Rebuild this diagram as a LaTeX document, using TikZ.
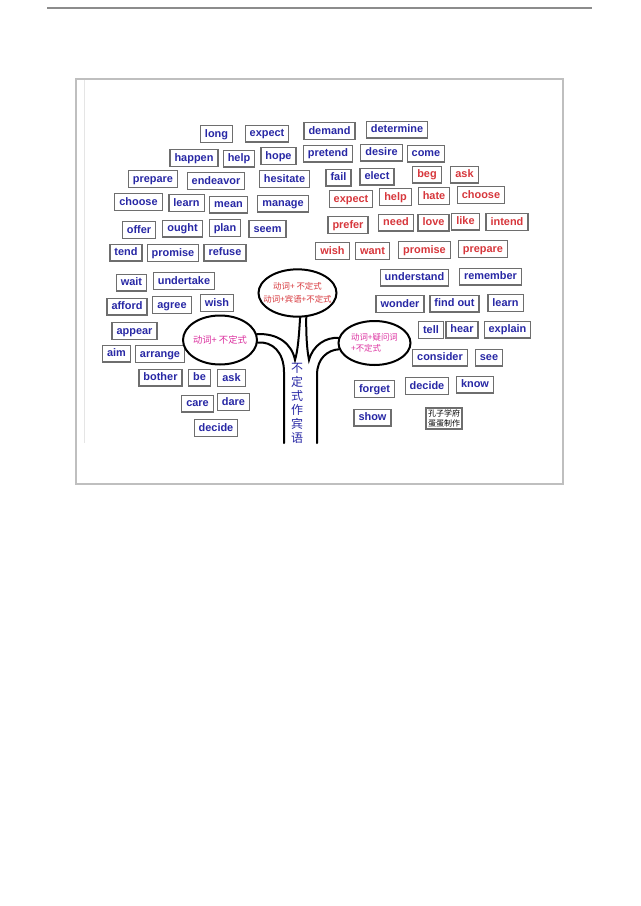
\documentclass[tikz,border=0pt]{standalone}
\usepackage{fontspec}
\setmainfont{Liberation Sans}
\newfontfamily\cjk{Noto Sans CJK SC}
\usetikzlibrary{shapes.geometric}
\definecolor{wblue}{RGB}{40,40,165}
\definecolor{wred}{RGB}{215,55,60}
\definecolor{wpink}{RGB}{220,50,160}
\definecolor{boxgray}{RGB}{110,110,110}

\begin{document}
\begin{tikzpicture}[x=.75pt,y=-.75pt,
every node/.style={draw=boxgray,line width=.9pt},
word/.style={inner xsep=3.4pt,inner ysep=2pt,text height=6.6pt,text depth=2pt,
  font=\fontsize{8.2}{9}\selectfont\bfseries},
bl/.style={word,text=wblue},
rd/.style={word,text=wred},
bubble/.style={ellipse,draw=black,line width=1.5pt,inner sep=0pt},
stem/.style={line width=1.5pt,line cap=round}]
\fill[white] (0,0) rectangle (640,906);
\useasboundingbox (0,0) rectangle (640,906);
\draw[black!45,line width=1.1pt] (47,8) -- (592,8);
\draw[black!25,line width=1.1pt] (76,79) rectangle (563,484);
\draw[black!10] (84,80) -- (84,443);
% blue words, left side
\node[bl] (B1) at (216.5,134) {long};
\node[bl] (B2) at (267,133.5) {expect};
\node[bl] (B3) at (329.5,131) {demand};
\node[bl] (B4) at (397,129.5) {determine};
\node[bl] (B5) at (194,158) {happen};
\node[bl] (B6) at (239,158.5) {help};
\node[bl] (B7) at (278.5,156) {hope};
\node[bl] (B8) at (328,153.5) {pretend};
\node[bl] (B9) at (381.5,152.5) {desire};
\node[bl] (B10) at (426,153.5) {come};
\node[bl] (B11) at (153,179) {prepare};
\node[bl] (B12) at (216,181) {endeavor};
\node[bl] (B13) at (284.5,179) {hesitate};
\node[bl] (B14) at (338.5,177.5) {fail};
\node[bl] (B15) at (377,176.5) {elect};
\node[bl] (B16) at (138.5,202) {choose};
\node[bl] (B17) at (186.5,203) {learn};
\node[bl] (B18) at (228.5,204.5) {mean};
\node[bl] (B19) at (283,203.5) {manage};
\node[bl] (B20) at (139,230) {offer};
\node[bl] (B21) at (182.5,228.5) {ought};
\node[bl] (B22) at (225,228) {plan};
\node[bl] (B23) at (267.5,229) {seem};
\node[bl] (B24) at (126,252.5) {tend};
\node[bl] (B25) at (173,253) {promise};
\node[bl] (B26) at (225,252.5) {refuse};
\node[bl] (B27) at (131.5,282.5) {wait};
\node[bl] (B28) at (184,281) {undertake};
\node[bl] (B29) at (127,306.5) {afford};
\node[bl] (B30) at (172,305) {agree};
\node[bl] (B31) at (217,303) {wish};
\node[bl] (B32) at (134.5,331) {appear};
\node[bl] (B33) at (116.5,353.5) {aim};
\node[bl] (B34) at (160,354) {arrange};
\node[bl] (B35) at (160.5,377.5) {bother};
\node[bl] (B36) at (199.5,377.5) {be};
\node[bl] (B37) at (231.5,378) {ask};
\node[bl] (B38) at (197.5,403.5) {care};
\node[bl] (B39) at (233.5,402) {dare};
\node[bl] (B40) at (216,428) {decide};
% blue words, right side
\node[bl] (B41) at (414.5,277.5) {understand};
\node[bl] (B42) at (490.5,276.5) {remember};
\node[bl] (B43) at (400,304) {wonder};
\node[bl] (B44) at (454.5,303.5) {find out};
\node[bl] (B45) at (505.5,303) {learn};
\node[bl] (B46) at (431,330) {tell};
\node[bl] (B47) at (462,329.5) {hear};
\node[bl] (B48) at (507.5,329.5) {explain};
\node[bl] (B49) at (440,357.5) {consider};
\node[bl] (B50) at (489,357.5) {see};
\node[bl] (B51) at (374.5,389) {forget};
\node[bl] (B52) at (427,386) {decide};
\node[bl] (B53) at (475,384.5) {know};
\node[bl] (B54) at (372.5,417.5) {show};
% red words
\node[rd] (R1) at (427,174.5) {beg};
\node[rd] (R2) at (464.5,174.5) {ask};
\node[rd] (R3) at (351,199) {expect};
\node[rd] (R4) at (395.5,197) {help};
\node[rd] (R5) at (434,196) {hate};
\node[rd] (R6) at (481,195) {choose};
\node[rd] (R7) at (348,225) {prefer};
\node[rd] (R8) at (396,222.5) {need};
\node[rd] (R9) at (433.5,222.5) {love};
\node[rd] (R10) at (465.5,221.5) {like};
\node[rd] (R11) at (507,222) {intend};
\node[rd] (R12) at (332.5,251) {wish};
\node[rd] (R13) at (372.5,251) {want};
\node[rd] (R14) at (424.5,250) {promise};
\node[rd] (R15) at (483,249) {prepare};
% the tree
\node[bubble,minimum width=58.5pt,minimum height=35.5pt] (E1) at (297.5,293) {};
\node[bubble,minimum width=55.5pt,minimum height=36.75pt] (E2) at (220,340) {};
\node[bubble,minimum width=54pt,minimum height=33pt] (E3) at (374.5,343) {};
\node[draw=none,text=wred,align=center,font=\cjk\fontsize{6.3}{9.75}\selectfont] (T1) at (E1) {动词+\ 不定式\\动词+宾语+不定式};
\node[draw=none,text=wpink,font=\cjk\fontsize{7}{8}\selectfont] (T2) at (E2) {动词+\ 不定式};
\node[draw=none,text=wpink,align=left,font=\cjk\fontsize{6.3}{8}\selectfont] (T3) at (E3) {动词+疑问词\\+不定式};
\coordinate (L1) at (284,443);
\coordinate (L2) at (317,443);
\draw[stem] (E2.9) .. controls (278,333) and (292,344) .. (295,360)
  .. controls (298,350) and (299,335) .. (E1.-84);
\draw[stem] (E2.-4) .. controls (272,341) and (284,352) .. (284,372) -- (L1);
\draw[stem] (E1.-70) .. controls (306,335) and (307,350) .. (309,360)
  .. controls (313,345) and (326,337) .. (E3.172);
\draw[stem] (E3.-170) .. controls (328,350) and (317,358) .. (317,375) -- (L2);
\node[draw=none,text=wblue,align=center,font=\cjk\fontsize{9}{10.5}\selectfont] (V) at (297,403) {不\\定\\式\\作\\宾\\语};
\node[line width=1.2pt,align=left,inner sep=1.5pt,font=\cjk\fontsize{6}{7.5}\selectfont] (K) at (444,418.5) {孔子学府\\蛋蛋制作};
\end{tikzpicture}
\end{document}
